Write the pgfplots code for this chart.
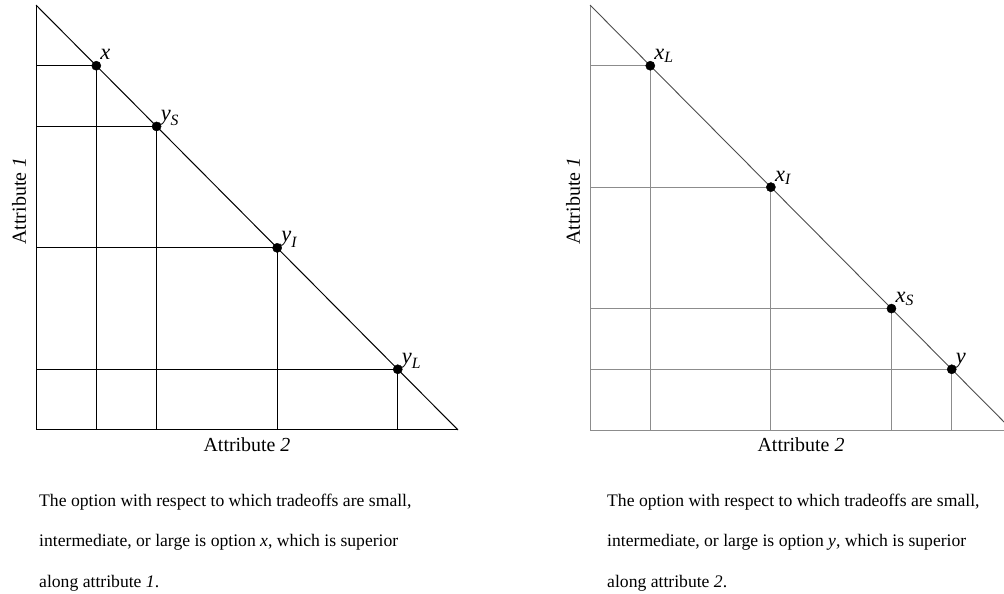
\documentclass[border=0pt]{standalone}
\usepackage{fontspec}
\setmainfont{Liberation Serif}
\usepackage{amsmath}
\usepackage{pgfplots}
\pgfplotsset{compat=1.18}
\begin{document}
\begin{tikzpicture}
\path[use as bounding box] (0,0) rectangle (1004bp,594bp);
\tikzset{lbl/.style={font=\fontsize{20}{24}\selectfont, inner sep=0pt}}
\pgfplotsset{
  panel/.style={
    x=60.29bp, y=60.71bp,
    xmin=0, ymin=0, ymax=7,
    axis lines=left,
    axis line style={-},
    xtick=\empty, ytick=\empty,
    enlargelimits=false, clip=false,
    anchor=origin,
  },
  ptlbl/.style={nodes near coords, point meta=explicit symbolic,
    every node near coord/.append style={anchor=base west, font=\fontsize{22.5}{26}\selectfont, inner sep=0pt, xshift=4bp, yshift=6bp}},
}
% ---------- left panel ----------
\begin{axis}[panel, at={(36bp,164bp)}, xmax=7, axis line style={black, line width=1bp}]
\addplot[black, line width=1bp] coordinates {(0,7) (7,0)};
\addplot[black, line width=0.9bp] coordinates {(0,6) (1,6) (1,0)};
\addplot[black, line width=0.9bp] coordinates {(0,5) (2,5) (2,0)};
\addplot[black, line width=0.9bp] coordinates {(0,3) (4,3) (4,0)};
\addplot[black, line width=0.9bp] coordinates {(0,1) (6,1) (6,0)};
\addplot[only marks, mark=*, mark size=4.6bp, black, ptlbl] coordinates {
  (1,6) [\textit{x}]
  (2,5) [$\textit{y}_{\textit{S}}$]
  (4,3) [$\textit{y}_{\textit{I}}$]
  (6,1) [$\textit{y}_{\textit{L}}$]
};
\node[lbl, anchor=base] at (axis cs:3.5,-0.36) {Attribute \textit{2}};
\node[lbl, anchor=base, rotate=90] at (axis cs:-0.17,3.77) {Attribute \textit{1}};
\end{axis}
% ---------- right panel ----------
\begin{axis}[panel, at={(590bp,164bp)}, xmax=6.87, axis line style={black!45, line width=0.9bp}]
\addplot[black!70, line width=0.9bp] coordinates {(0,7) (6.87,0.13)};
\addplot[black!45, line width=0.9bp] coordinates {(0,6) (1,6) (1,0)};
\addplot[black!45, line width=0.9bp] coordinates {(0,4) (3,4) (3,0)};
\addplot[black!45, line width=0.9bp] coordinates {(0,2) (5,2) (5,0)};
\addplot[black!45, line width=0.9bp] coordinates {(0,1) (6,1) (6,0)};
\addplot[only marks, mark=*, mark size=4.6bp, black, ptlbl] coordinates {
  (1,6) [$\textit{x}_{\textit{L}}$]
  (3,4) [$\textit{x}_{\textit{I}}$]
  (5,2) [$\textit{x}_{\textit{S}}$]
  (6,1) [\textit{y}]
};
\node[lbl, anchor=base] at (axis cs:3.5,-0.36) {Attribute \textit{2}};
\node[lbl, anchor=base, rotate=90] at (axis cs:-0.17,3.77) {Attribute \textit{1}};
\end{axis}
% ---------- captions ----------
\begin{scope}[every node/.style={anchor=base west, inner sep=0pt, font=\fontsize{17.7}{21}\selectfont}]
\node at (39bp,87bp) {The option with respect to which tradeoffs are small,};
\node at (39bp,47bp) {intermediate, or large is option \textit{x}, which is superior};
\node at (39bp,7bp) {along attribute \textit{1}.};
\node at (607bp,87bp) {The option with respect to which tradeoffs are small,};
\node at (607bp,47bp) {intermediate, or large is option \textit{y}, which is superior};
\node at (607bp,7bp) {along attribute \textit{2}.};
\end{scope}
\end{tikzpicture}
\end{document}
